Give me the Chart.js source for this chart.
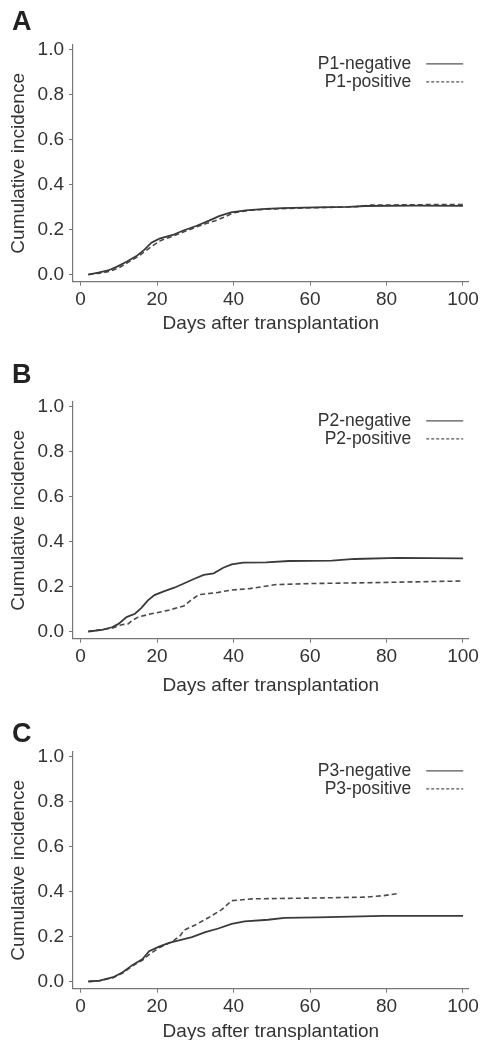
<!DOCTYPE html>
<html>
<head>
<meta charset="utf-8">
<script src="https://cdn.jsdelivr.net/npm/chart.js@4.4.1/dist/chart.umd.min.js"></script>
<style>
  html, body { margin: 0; padding: 0; background: #fff; }
  body { width: 482px; height: 1040px; position: relative; overflow: hidden; }
  .panel { position: absolute; left: 0; }
</style>
</head>
<body>
<div class="panel" style="top:0"><canvas id="chartA" width="482" height="357"></canvas></div>
<div class="panel" style="top:357px"><canvas id="chartB" width="482" height="350"></canvas></div>
<div class="panel" style="top:707px"><canvas id="chartC" width="482" height="340"></canvas></div>
<script>
// tick labels
const xTicks = [0, 20, 40, 60, 80, 100];
const yTicks = [0, 0.2, 0.4, 0.6, 0.8, 1.0];

// panel A
const p1NegDays = [2, 4.6, 7.2, 9.4, 12, 14.6, 16.7, 18.5, 20.6, 24.1, 26.7, 30.2, 33.6, 36.2, 39.3, 43.2, 48.4, 52.7, 61.4, 70.1, 74.4, 87.4, 100];
const p1NegInc = [0, 0.008, 0.018, 0.034, 0.057, 0.082, 0.111, 0.142, 0.16, 0.176, 0.195, 0.216, 0.24, 0.26, 0.277, 0.286, 0.292, 0.296, 0.299, 0.301, 0.305, 0.307, 0.306];
const p1PosDays = [2, 5, 7.5, 10, 12.5, 15, 17, 19, 21, 24, 27, 30, 33, 35, 37.5, 40, 44, 50, 60, 72, 76, 90, 100];
const p1PosInc = [0, 0.006, 0.014, 0.03, 0.055, 0.08, 0.105, 0.13, 0.152, 0.17, 0.19, 0.21, 0.228, 0.238, 0.255, 0.275, 0.286, 0.292, 0.297, 0.302, 0.309, 0.311, 0.311];

// panel B
const p2NegDays = [2, 5.6, 8.2, 9.9, 12, 14.2, 15.9, 17.6, 19.3, 21.9, 24.5, 27, 29.6, 32.2, 34.8, 37.3, 39.5, 42.5, 48.5, 54.5, 65.7, 71.7, 82.8, 100];
const p2NegInc = [0, 0.007, 0.019, 0.034, 0.064, 0.079, 0.105, 0.139, 0.162, 0.18, 0.195, 0.214, 0.234, 0.252, 0.259, 0.284, 0.299, 0.307, 0.308, 0.314, 0.316, 0.323, 0.328, 0.326];
const p2PosDays = [2, 8.2, 10.7, 12.4, 13.6, 15, 18.5, 22.8, 27, 28.8, 30.9, 35.6, 39.1, 44.2, 51.1, 61.4, 74.2, 87.1, 100];
const p2PosInc = [0, 0.015, 0.03, 0.034, 0.05, 0.064, 0.079, 0.094, 0.114, 0.139, 0.164, 0.173, 0.184, 0.191, 0.209, 0.214, 0.217, 0.221, 0.225];

// panel C
const p3NegDays = [2, 5, 8.5, 11, 13.6, 16.2, 17.9, 20.5, 23.1, 25.7, 29.1, 32.6, 36, 39.5, 42.9, 49, 53.3, 61.9, 70.5, 79.1, 100];
const p3NegInc = [0, 0.004, 0.019, 0.041, 0.074, 0.1, 0.135, 0.155, 0.172, 0.183, 0.198, 0.22, 0.236, 0.257, 0.268, 0.275, 0.283, 0.286, 0.289, 0.292, 0.292];
const p3PosDays = [2, 5, 8.5, 11, 13.6, 16.2, 17.9, 20.5, 24, 26.1, 27, 30, 33.5, 36.9, 39.5, 44.7, 61.9, 74.8, 79.1, 83];
const p3PosInc = [0, 0.004, 0.017, 0.038, 0.07, 0.095, 0.12, 0.15, 0.178, 0.205, 0.228, 0.252, 0.285, 0.32, 0.36, 0.368, 0.372, 0.376, 0.382, 0.392];

const FONT = '"Liberation Sans", Arial, sans-serif';
const TEXT = '#333';
Chart.defaults.font.family = FONT;
Chart.defaults.color = TEXT;

const toPoints = (days, inc) => days.map((d, i) => ({ x: d, y: inc[i] }));

// big panel letter (A, B, C)
const panelLetter = {
  id: 'panelLetter',
  afterDraw(chart, args, opts) {
    const ctx = chart.ctx;
    ctx.save();
    ctx.font = 'bold 27px ' + FONT;
    ctx.fillStyle = '#222';
    ctx.textBaseline = 'alphabetic';
    ctx.fillText(opts.text, 12, opts.baseline);
    ctx.restore();
  }
};

// R-style legend: label first, line sample after
const sideLegend = {
  id: 'sideLegend',
  afterDraw(chart) {
    const { ctx, chartArea } = chart;
    ctx.save();
    ctx.font = '17.5px ' + FONT;
    ctx.textBaseline = 'middle';
    chart.data.datasets.forEach((ds, i) => {
      const y = chartArea.top + 18.8 + i * 18;
      ctx.textAlign = 'right';
      ctx.fillStyle = TEXT;
      ctx.fillText(ds.label, chartArea.right - 57.5, y);
      ctx.strokeStyle = '#555';
      ctx.lineWidth = 1.2;
      ctx.setLineDash(ds.borderDash.length ? [3, 2] : []);
      ctx.beginPath();
      ctx.moveTo(chartArea.right - 42.5, y);
      ctx.lineTo(chartArea.right - 5.5, y);
      ctx.stroke();
    });
    ctx.restore();
  }
};

function makePanel(id, cfg) {
  const axisGrid = { drawOnChartArea: false, drawTicks: true, tickLength: 4, color: '#777', lineWidth: 1 };
  const axisBorder = { display: true, color: '#777', width: 1.2 };
  new Chart(document.getElementById(id), {
    type: 'line',
    data: {
      datasets: [
        { label: cfg.labels[0], data: cfg.neg, borderColor: '#3a3a3a', borderWidth: 1.8, pointRadius: 0, tension: 0, borderDash: [] },
        { label: cfg.labels[1], data: cfg.pos, borderColor: '#4a4a4a', borderWidth: 1.6, pointRadius: 0, tension: 0, borderDash: [5, 3] }
      ]
    },
    options: {
      responsive: false,
      animation: false,
      layout: { padding: { left: 0, right: 11.3, top: 45, bottom: cfg.padBottom } },
      plugins: {
        legend: { display: false },
        tooltip: { enabled: false },
        panelLetter: { text: cfg.letter, baseline: cfg.letterBase }
      },
      scales: {
        x: {
          type: 'linear',
          min: -2,
          max: 101.5,
          afterBuildTicks: s => { s.ticks = xTicks.map(v => ({ value: v })); },
          afterFit: s => { s.height = cfg.xHeight; },
          grid: axisGrid,
          border: axisBorder,
          ticks: { padding: 3, font: { size: 19 }, color: TEXT, maxRotation: 0, autoSkip: false, callback: v => String(v) },
          title: { display: true, text: 'Days after transplantation', font: { size: 19 }, color: TEXT, padding: { top: 0, bottom: 0 } }
        },
        y: {
          min: -0.032,
          max: 1.022,
          afterBuildTicks: s => { s.ticks = yTicks.map(v => ({ value: v })); },
          afterFit: s => { s.width = 73; },
          grid: axisGrid,
          border: axisBorder,
          ticks: { padding: 5, font: { size: 19 }, color: TEXT, autoSkip: false, callback: v => v.toFixed(1) },
          title: { display: true, text: 'Cumulative incidence', font: { size: 19 }, color: TEXT, padding: { top: 7.6, bottom: 0 } }
        }
      }
    },
    plugins: [panelLetter, sideLegend]
  });
}

makePanel('chartA', {
  letter: 'A', letterBase: 30, xHeight: 53, padBottom: 22.3,
  labels: ['P1-negative', 'P1-positive'],
  neg: toPoints(p1NegDays, p1NegInc), pos: toPoints(p1PosDays, p1PosInc)
});
makePanel('chartB', {
  letter: 'B', letterBase: 26, xHeight: 58, padBottom: 10.3,
  labels: ['P2-negative', 'P2-positive'],
  neg: toPoints(p2NegDays, p2NegInc), pos: toPoints(p2PosDays, p2PosInc)
});
makePanel('chartC', {
  letter: 'C', letterBase: 35, xHeight: 54.5, padBottom: 3.8,
  labels: ['P3-negative', 'P3-positive'],
  neg: toPoints(p3NegDays, p3NegInc), pos: toPoints(p3PosDays, p3PosInc)
});
</script>
</body>
</html>
